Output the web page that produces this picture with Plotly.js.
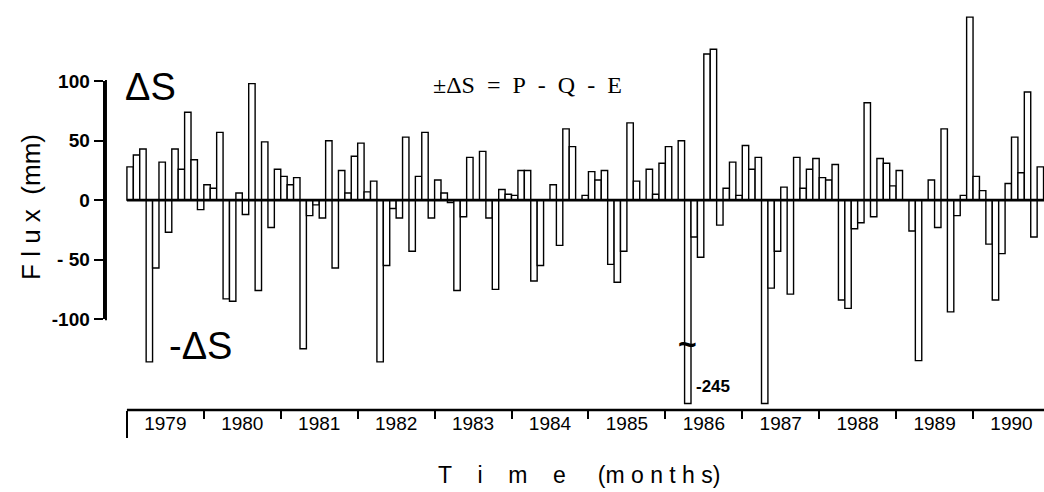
<!DOCTYPE html>
<html>
<head>
<meta charset="utf-8">
<script src="https://cdn.plot.ly/plotly-3.0.1.min.js"></script>
<style>html,body{margin:0;padding:0;background:#fff;}#chart{width:1044px;height:492px;}</style>
</head>
<body>
<div id="chart"></div>
<script>
const years = [1979, 1980, 1981, 1982, 1983, 1984, 1985, 1986, 1987, 1988, 1989, 1990];
const flux1979 = [28, 38, 43, -136, -57, 32, -27, 43, 26, 74, 34, -8];
const flux1980 = [13, 10, 57, -83, -85, 6, -12, 98, -76, 49, -23, 26];
const flux1981 = [20, 13, 19, -125, -13, -4, -15, 50, -57, 25, 6, 37];
const flux1982 = [48, 7, 16, -136, -55, -7, -15, 53, -43, 20, 57, -15];
const flux1983 = [17, 6, -2, -76, -14, 36, 0, 41, -15, -75, 9, 5];
const flux1984 = [4, 25, 25, -68, -55, 0, 13, -38, 60, 45, 0, 4];
const flux1985 = [24, 17, 25, -54, -69, -43, 65, 16, 0, 26, 5, 31];
const flux1986 = [45, 0, 50, -245, -31, -48, 123, 127, -21, 10, 32, 4];
const flux1987 = [46, 26, 36, -171, -74, -43, 11, -79, 36, 10, 26, 35];
const flux1988 = [19, 17, 30, -84, -91, -24, -19, 82, -14, 35, 31, 12];
const flux1989 = [25, 0, -26, -135, 0, 17, -23, 60, -94, -13, 4, 154];
const flux1990 = [20, 8, -37, -84, -45, 14, 53, 23, 91, -31, 28];
const yTickVals = [-100, -50, 0, 50, 100];
const yTickText = ['-100', '- 50', '0', '50', '100'];
const breakLevel = -171;

const values = [].concat(flux1979, flux1980, flux1981, flux1982, flux1983, flux1984,
  flux1985, flux1986, flux1987, flux1988, flux1989, flux1990);
const months = values.map((v, i) => i);
const shown = values.map(v => v < breakLevel ? breakLevel : v);
const yearCenters = years.map((y, k) => k * 12 + 5.5);
const yearBounds = years.slice(1).map((y, k) => (k + 1) * 12 - 0.5);
const brokenIdx = values.findIndex(v => v < breakLevel);

const xr = [-3.92, 142.57];
const yr = [-176.5, 165];
const sans = 'Liberation Sans, Arial, sans-serif';

// y2 axis spans only -100..100 of the main y scale
const yMin = yTickVals[0], yMax = yTickVals[yTickVals.length - 1];
const dom2 = [(yMin - yr[0]) / (yr[1] - yr[0]), (yMax - yr[0]) / (yr[1] - yr[0])];

const traces = [
  {type: 'bar', x: months, y: shown, width: 1,
   marker: {color: '#ffffff', line: {color: '#000', width: 1.4}},
   hoverinfo: 'skip'},
  {type: 'scatter', x: [], y: [], xaxis: 'x2', showlegend: false},
  {type: 'scatter', x: [], y: [], xaxis: 'x3', showlegend: false},
  {type: 'scatter', x: [], y: [], yaxis: 'y2', showlegend: false}
];

const axBase = {range: xr, showgrid: false, zeroline: false, showline: false, fixedrange: true};

const layout = {
  width: 1044, height: 492,
  margin: {l: 105, r: 0, t: 3.6, b: 82},
  paper_bgcolor: '#fff', plot_bgcolor: 'rgba(0,0,0,0)',
  showlegend: false, bargap: 0,
  xaxis: Object.assign({}, axBase, {
    tickvals: yearCenters, ticktext: years.map(String), ticks: '',
    tickfont: {family: sans, size: 19, color: '#000'}
  }),
  xaxis2: Object.assign({}, axBase, {
    overlaying: 'x', anchor: 'y', side: 'bottom',
    tickvals: yearBounds, ticks: 'outside', ticklen: 8, tickwidth: 2, tickcolor: '#000',
    showticklabels: false
  }),
  xaxis3: Object.assign({}, axBase, {
    overlaying: 'x', anchor: 'y', side: 'bottom',
    tickvals: [-0.5], ticks: 'outside', ticklen: 27, tickwidth: 2, tickcolor: '#000',
    showticklabels: false
  }),
  yaxis: {
    range: yr, showgrid: false, zeroline: false, showline: false, fixedrange: true,
    showticklabels: false, ticks: ''
  },
  yaxis2: {
    domain: dom2, anchor: 'x', range: [yMin, yMax],
    showgrid: false, zeroline: false, showline: true, linecolor: '#000', linewidth: 2.4,
    tickvals: yTickVals, ticktext: yTickText, ticks: 'outside', ticklen: 9, tickwidth: 2.2,
    tickcolor: '#000', tickfont: {family: sans, size: 19, color: '#000', weight: 'bold'},
    fixedrange: true
  },
  shapes: [
    {type: 'line', xref: 'x', yref: 'y', x0: -0.5, x1: 145, y0: 0, y1: 0,
     line: {color: '#000', width: 2.6}},
    {type: 'line', xref: 'x', yref: 'paper', x0: -0.5, x1: 145, y0: 0, y1: 0,
     line: {color: '#000', width: 2.6}},
    {type: 'line', xref: 'x', yref: 'y', x0: xr[0] + 0.12, x1: xr[0] + 0.12, y0: yMin - 1, y1: yMax + 1,
     line: {color: '#000', width: 2.4}}
  ],
  annotations: [
    {xref: 'paper', yref: 'paper', x: -0.097, y: 0.5, textangle: -90, showarrow: false,
     text: 'F l u x\u00a0 (mm)', font: {family: sans, size: 26, color: '#000'}},
    {xref: 'paper', yref: 'paper', x: 0.505, y: -0.16, xanchor: 'center', yanchor: 'middle', showarrow: false,
     text: 'T\u00a0\u00a0\u00a0 i\u00a0\u00a0\u00a0 m\u00a0\u00a0\u00a0 e\u00a0\u00a0\u00a0\u00a0 (m o n t h s)',
     font: {family: sans, size: 23, color: '#000'}},
    {xref: 'paper', yref: 'y', x: 0.019, y: 95, xanchor: 'left', yanchor: 'middle', showarrow: false,
     text: '\u0394S', font: {family: sans, size: 38, color: '#000'}},
    {xref: 'paper', yref: 'y', x: 0.066, y: -123, xanchor: 'left', yanchor: 'middle', showarrow: false,
     text: '-\u0394S', font: {family: sans, size: 38, color: '#000'}},
    {xref: 'x', yref: 'y', x: 62, y: 97, xanchor: 'center', yanchor: 'middle', showarrow: false,
     text: '\u00b1\u0394S\u00a0 =\u00a0 P\u00a0 -\u00a0 Q\u00a0 -\u00a0 E',
     font: {family: 'Liberation Serif, Times New Roman, serif', size: 24, color: '#000'}},
    {xref: 'x', yref: 'y', x: brokenIdx, y: -121, xanchor: 'center', yanchor: 'middle', showarrow: false,
     text: '<b>~</b>', font: {family: sans, size: 32, color: '#000'}},
    {xref: 'x', yref: 'y', x: brokenIdx + 0.5, y: -157, xanchor: 'left', yanchor: 'middle', xshift: 3, showarrow: false,
     text: String(values[brokenIdx]), font: {family: sans, size: 17, color: '#000', weight: 'bold'}}
  ]
};

Plotly.newPlot('chart', traces, layout, {staticPlot: true, displayModeBar: false});
</script>
</body>
</html>
